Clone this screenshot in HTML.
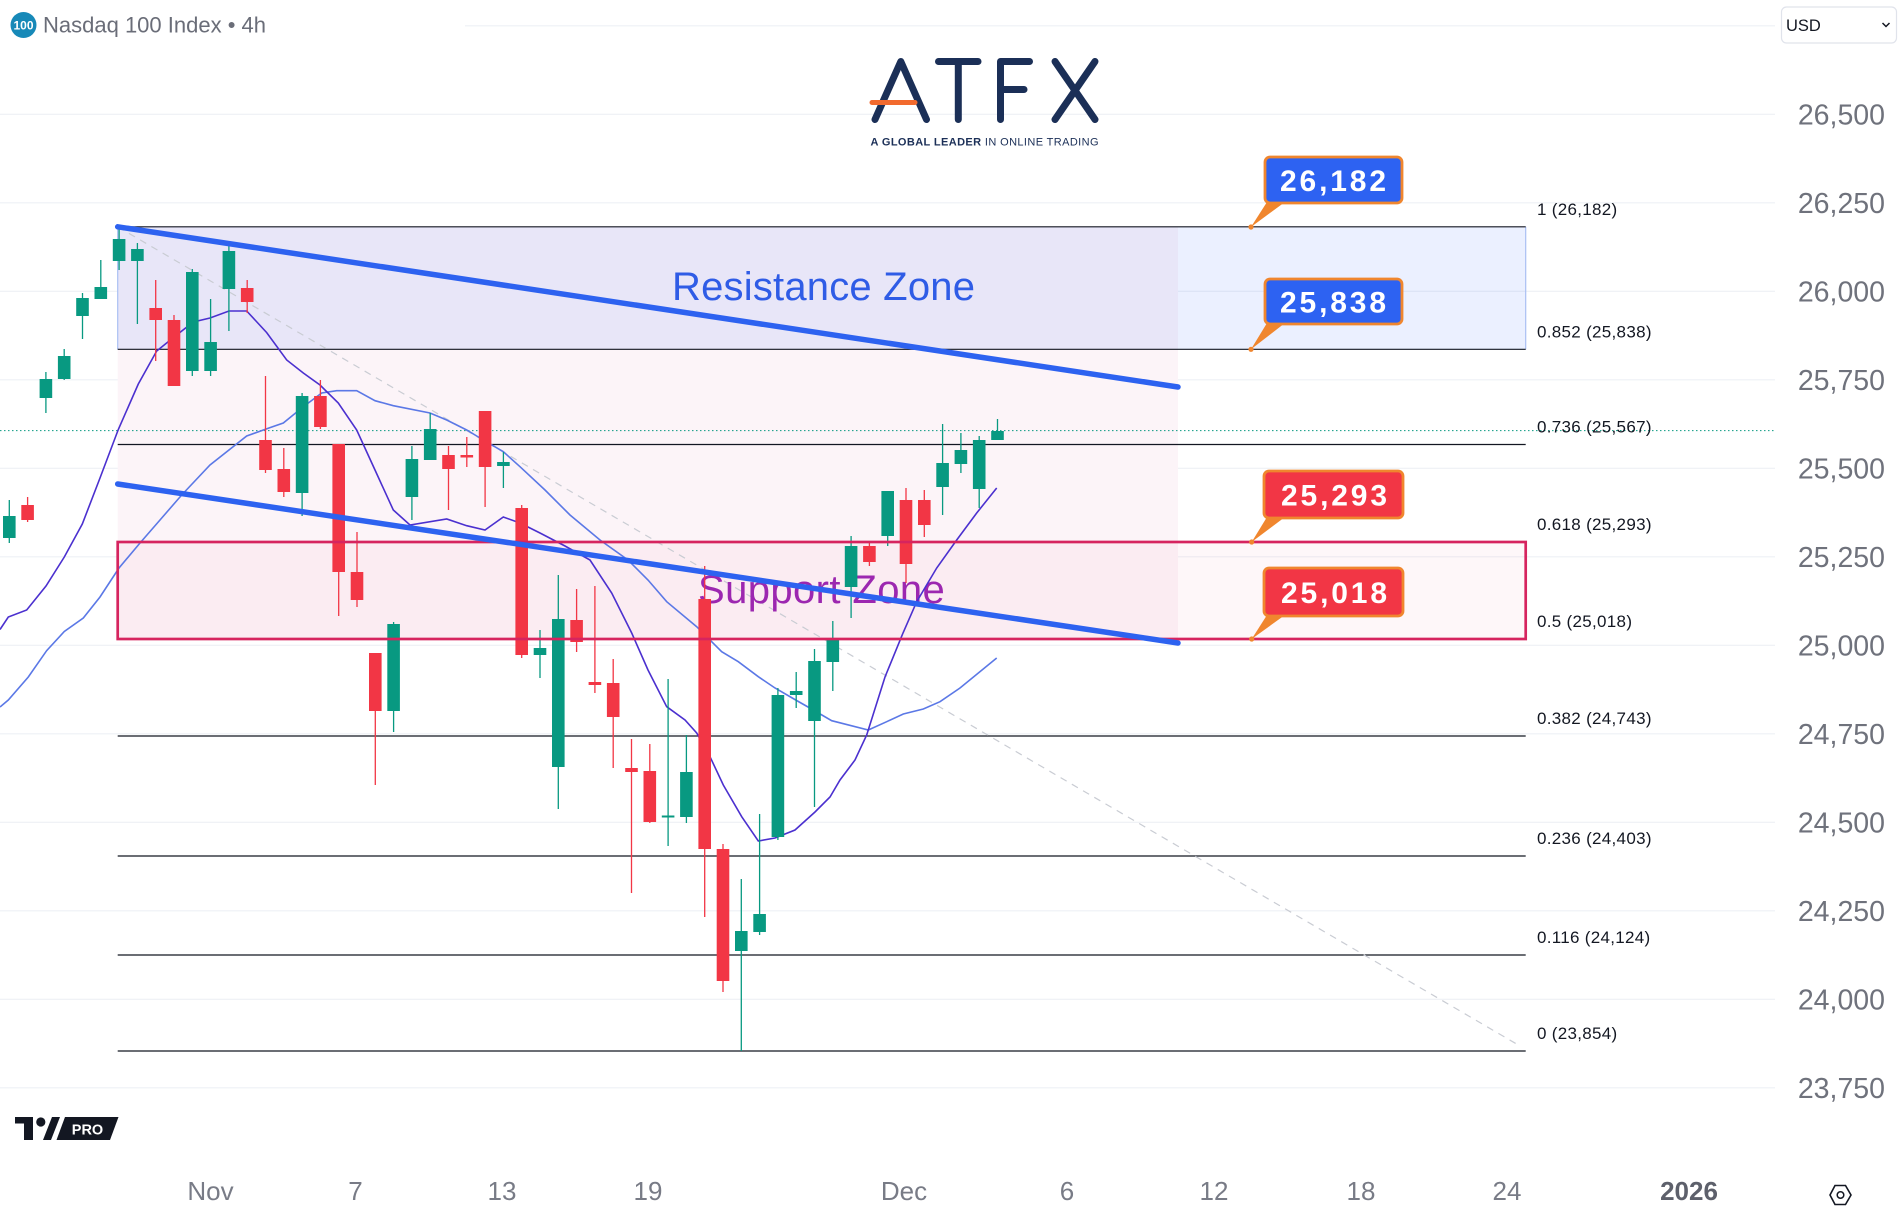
<!DOCTYPE html>
<html><head><meta charset="utf-8"><style>
html,body{margin:0;padding:0;background:#fff;}
svg{display:block;}
text{font-family:"Liberation Sans",Arial,sans-serif;}
</style></head><body>
<svg width="1902" height="1224" viewBox="0 0 1902 1224" xmlns="http://www.w3.org/2000/svg">
<rect width="1902" height="1224" fill="#fff"/>
<!-- gridlines -->
<g stroke="#eef0f5" stroke-width="1.2">
<line x1="465" y1="25.8" x2="1775" y2="25.8"/>
<line x1="0" y1="114.3" x2="1775" y2="114.3"/>
<line x1="0" y1="202.8" x2="1775" y2="202.8"/>
<line x1="0" y1="291.3" x2="1775" y2="291.3"/>
<line x1="0" y1="379.8" x2="1775" y2="379.8"/>
<line x1="0" y1="468.3" x2="1775" y2="468.3"/>
<line x1="0" y1="556.8" x2="1775" y2="556.8"/>
<line x1="0" y1="645.3" x2="1775" y2="645.3"/>
<line x1="0" y1="733.8" x2="1775" y2="733.8"/>
<line x1="0" y1="822.3" x2="1775" y2="822.3"/>
<line x1="0" y1="910.8" x2="1775" y2="910.8"/>
<line x1="0" y1="999.3" x2="1775" y2="999.3"/>
<line x1="0" y1="1087.8" x2="1775" y2="1087.8"/>
</g>
<!-- pink fill -->
<rect x="117.7" y="226.8" width="1060.3" height="412.2" fill="#fcf4f8"/>
<!-- resistance zone -->
<rect x="117.7" y="226.8" width="1408" height="122.5" fill="rgba(41,98,255,0.095)"/>
<line x1="117.7" y1="226.8" x2="117.7" y2="349.3" stroke="#a9c0f3" stroke-width="1.2"/>
<line x1="1525.7" y1="226.8" x2="1525.7" y2="349.3" stroke="#a9c0f3" stroke-width="1.2"/>
<!-- support zone fill -->
<rect x="117.7" y="542" width="1408" height="97" fill="rgba(233,30,99,0.035)"/>
<!-- fib lines -->
<g stroke="#131722" stroke-width="1.2">
<line x1="117.7" y1="226.8" x2="1525.7" y2="226.8"/>
<line x1="117.7" y1="349.3" x2="1525.7" y2="349.3"/>
<line x1="117.7" y1="444.5" x2="1525.7" y2="444.5"/>
<line x1="117.7" y1="736" x2="1525.7" y2="736"/>
<line x1="117.7" y1="856" x2="1525.7" y2="856"/>
<line x1="117.7" y1="955" x2="1525.7" y2="955"/>
<line x1="117.7" y1="1051" x2="1525.7" y2="1051"/>
</g>
<!-- current price dotted -->
<line x1="0" y1="430.6" x2="1775" y2="430.6" stroke="#089981" stroke-width="1" stroke-dasharray="1.5 2.5"/>
<!-- gray dashed diagonal -->
<line x1="117.7" y1="226.8" x2="1520" y2="1046" stroke="#c9ccd3" stroke-width="1.2" stroke-dasharray="7 6"/>
<!-- zone texts -->
<text x="672" y="300" font-size="40" fill="#2f5ce6" letter-spacing="0.2">Resistance Zone</text>
<text x="698" y="603" font-size="40" fill="#9c27b0" letter-spacing="0.4">Support Zone</text>
<!-- MAs -->
<polyline fill="none" stroke="#5b78e6" stroke-width="1.6" points="0,707 8.3,700 28.3,677 46.7,650.6 64.3,631.5 83.3,618 100,597 119,568 140,543 160,520 181.7,495 210,465 246.7,436 270,427.6 283.3,423 303.3,406.7 321.7,393 336.7,390.7 356.7,390.7 375,400.7 393.3,405.7 430,413 446.7,420 466.7,430 483.3,440 503.3,451.7 520,466.7 545,490 570,515 600,540 628,560 648,580 666.7,601.7 696.7,626.7 721.7,651.7 738.3,661.7 758.3,676.7 775,688 795.7,700 813.3,710 831.7,720.7 868.3,730 886.7,721.7 903.3,714 923.3,709 940,701.7 960,688 996.7,658"/>
<polyline fill="none" stroke="#4b30cf" stroke-width="1.6" points="0,629.5 8.3,617 26.7,610 46,586 64.3,557 82.3,524 100,478 118.3,429.5 138.3,384 156.7,351 173.3,337.6 193.3,322 210,318 229,311 246.7,311 266.7,332.6 286.7,360 303.3,373 320,385 338.3,403 356.7,430 375,470 393.3,510 410,525 446.7,519 466.7,525.7 485,530 503.3,517 520,523 540,533 565,546 590,560 611.7,593 631.7,633 648,670 666.7,706.7 685,720 696.7,733 710,756.7 723.3,785 741.7,816.7 758.3,841 775,838 795,830 815,812 830,797 840,780 855,760 866.7,735 885,677 903,633 916.7,601.7 936.7,568 956.7,540 976.7,513 996.7,488"/>
<!-- green candles -->
<g fill="#089981">
<path stroke="#089981" stroke-width="1.3" fill="none" d="M9.3 500V543M45.9 372V413M64.2 349V380M82.5 293V339M100.8 260V299M119.1 229V270M137.4 243V324M192.3 269V376M210.6 299V376M228.9 245V331M302.1 393V516M393.6 622V732M411.9 446V520M430.2 413V460M503.4 452V488M540 630V678M558.3 575V809M668.1 679V846M686.4 735V823M741.3 879V1051M759.6 814V935M777.9 688V840M796.2 672V708M814.5 649V807M832.8 621V691M851.1 536V618M887.7 491V546M942.6 424V515M960.9 433V473M979.2 436V508M997.5 419V440"/>
<rect x="3" y="516" width="12.6" height="22"/>
<rect x="39.6" y="379" width="12.6" height="19"/>
<rect x="57.9" y="356" width="12.6" height="23"/>
<rect x="76.2" y="298" width="12.6" height="18"/>
<rect x="94.5" y="287" width="12.6" height="12"/>
<rect x="112.8" y="239" width="12.6" height="22"/>
<rect x="131.1" y="249" width="12.6" height="12"/>
<rect x="186" y="272" width="12.6" height="99"/>
<rect x="204.3" y="342" width="12.6" height="29"/>
<rect x="222.6" y="251" width="12.6" height="38"/>
<rect x="295.8" y="396" width="12.6" height="97"/>
<rect x="387.3" y="624" width="12.6" height="87"/>
<rect x="405.6" y="459" width="12.6" height="38"/>
<rect x="423.9" y="429" width="12.6" height="31"/>
<rect x="497.1" y="462" width="12.6" height="4"/>
<rect x="533.7" y="648" width="12.6" height="7"/>
<rect x="552" y="619" width="12.6" height="148"/>
<rect x="661.8" y="815.5" width="12.6" height="2"/>
<rect x="680.1" y="772" width="12.6" height="45"/>
<rect x="735" y="931" width="12.6" height="20"/>
<rect x="753.3" y="914" width="12.6" height="18"/>
<rect x="771.6" y="695" width="12.6" height="142"/>
<rect x="789.9" y="691" width="12.6" height="4"/>
<rect x="808.2" y="661" width="12.6" height="60"/>
<rect x="826.5" y="639" width="12.6" height="23"/>
<rect x="844.8" y="546" width="12.6" height="41"/>
<rect x="881.4" y="491" width="12.6" height="45"/>
<rect x="936.3" y="463" width="12.6" height="24"/>
<rect x="954.6" y="450" width="12.6" height="14"/>
<rect x="972.9" y="440" width="12.6" height="49"/>
<rect x="991.2" y="431" width="12.6" height="9"/>
</g>
<!-- red candles -->
<g fill="#f23645">
<path stroke="#f23645" stroke-width="1.3" fill="none" d="M27.6 497V522M155.7 280V361M174 315V386M247.2 280V313M265.5 376V473M283.8 448V497M320.4 380V429M338.7 444V616M357 532V607M375.3 653V785M448.5 446V510M466.8 437V467M485.1 411V507M521.7 505V658M576.6 589V652M594.9 586V693M613.2 659V768M631.5 739V893M649.8 744V823M704.7 566V917M723 844V992M869.4 541V566M906 488V583M924.3 490V537"/>
<rect x="21.3" y="505" width="12.6" height="15"/>
<rect x="149.4" y="308" width="12.6" height="12"/>
<rect x="167.7" y="320" width="12.6" height="66"/>
<rect x="240.9" y="288" width="12.6" height="14"/>
<rect x="259.2" y="440" width="12.6" height="30"/>
<rect x="277.5" y="469" width="12.6" height="23"/>
<rect x="314.1" y="396" width="12.6" height="31"/>
<rect x="332.4" y="444" width="12.6" height="128"/>
<rect x="350.7" y="572" width="12.6" height="28"/>
<rect x="369" y="653" width="12.6" height="58"/>
<rect x="442.2" y="455" width="12.6" height="14"/>
<rect x="460.5" y="455" width="12.6" height="2.5"/>
<rect x="478.8" y="411" width="12.6" height="56"/>
<rect x="515.4" y="508" width="12.6" height="147"/>
<rect x="570.3" y="620" width="12.6" height="22"/>
<rect x="588.6" y="682" width="12.6" height="3"/>
<rect x="606.9" y="683" width="12.6" height="34"/>
<rect x="625.2" y="768" width="12.6" height="4"/>
<rect x="643.5" y="771" width="12.6" height="51"/>
<rect x="698.4" y="599" width="12.6" height="250"/>
<rect x="716.7" y="849" width="12.6" height="132"/>
<rect x="863.1" y="546" width="12.6" height="16"/>
<rect x="899.7" y="500" width="12.6" height="64"/>
<rect x="918" y="500" width="12.6" height="25"/>
</g>
<!-- support zone border -->
<rect x="117.7" y="542" width="1408" height="97" fill="none" stroke="#d6245f" stroke-width="2.7"/>
<!-- trendlines -->
<g stroke="#2d62f0" stroke-width="5.5" stroke-linecap="round">
<line x1="117.7" y1="226.8" x2="1178" y2="387"/>
<line x1="117.7" y1="484" x2="1178" y2="643"/>
</g>
<!-- fib labels -->
<g font-size="17" fill="#131722" letter-spacing="0.3">
<text x="1537" y="215">1 (26,182)</text>
<text x="1537" y="337.5">0.852 (25,838)</text>
<text x="1537" y="432.5">0.736 (25,567)</text>
<text x="1537" y="530">0.618 (25,293)</text>
<text x="1537" y="627">0.5 (25,018)</text>
<text x="1537" y="724">0.382 (24,743)</text>
<text x="1537" y="844">0.236 (24,403)</text>
<text x="1537" y="943">0.116 (24,124)</text>
<text x="1537" y="1039">0 (23,854)</text>
</g>
<!-- callouts -->
<g>
<polygon points="1267,202 1285,202 1251,227" fill="#f0862e"/>
<circle cx="1251" cy="227" r="2.6" fill="#f0862e"/>
<rect x="1265" y="157" width="137" height="46" rx="5" fill="#2d62f2" stroke="#f0862e" stroke-width="2.8"/>
<text x="1280" y="191" font-size="30" font-weight="bold" fill="#fff" textLength="106" lengthAdjust="spacing">26,182</text>

<polygon points="1267,323 1285,323 1251,349.3" fill="#f0862e"/>
<circle cx="1251" cy="349.3" r="2.6" fill="#f0862e"/>
<rect x="1265" y="279" width="137" height="45" rx="5" fill="#2d62f2" stroke="#f0862e" stroke-width="2.8"/>
<text x="1280" y="312.5" font-size="30" font-weight="bold" fill="#fff" textLength="106" lengthAdjust="spacing">25,838</text>

<polygon points="1267,517 1285,517 1251.7,542" fill="#f0862e"/>
<circle cx="1251.7" cy="542" r="2.6" fill="#f0862e"/>
<rect x="1264" y="471" width="139" height="47" rx="5" fill="#f23645" stroke="#f0862e" stroke-width="2.8"/>
<text x="1281" y="505.5" font-size="30" font-weight="bold" fill="#fff" textLength="106" lengthAdjust="spacing">25,293</text>

<polygon points="1267,615 1285,615 1251.7,639" fill="#f0862e"/>
<circle cx="1251.7" cy="639" r="2.6" fill="#f0862e"/>
<rect x="1264" y="568" width="139" height="48" rx="5" fill="#f23645" stroke="#f0862e" stroke-width="2.8"/>
<text x="1281" y="603" font-size="30" font-weight="bold" fill="#fff" textLength="106" lengthAdjust="spacing">25,018</text>
</g>
<!-- y axis labels -->
<g font-size="28.5" fill="#6f727c" text-anchor="end">
<text x="1885" y="124.3">26,500</text>
<text x="1885" y="212.8">26,250</text>
<text x="1885" y="301.3">26,000</text>
<text x="1885" y="389.8">25,750</text>
<text x="1885" y="478.3">25,500</text>
<text x="1885" y="566.8">25,250</text>
<text x="1885" y="655.3">25,000</text>
<text x="1885" y="743.8">24,750</text>
<text x="1885" y="832.3">24,500</text>
<text x="1885" y="920.8">24,250</text>
<text x="1885" y="1009.3">24,000</text>
<text x="1885" y="1097.8">23,750</text>
</g>
<!-- x axis labels -->
<g font-size="26" fill="#787b86" text-anchor="middle">
<text x="210.5" y="1200">Nov</text>
<text x="355.5" y="1200">7</text>
<text x="502" y="1200">13</text>
<text x="648" y="1200">19</text>
<text x="904" y="1200">Dec</text>
<text x="1067" y="1200">6</text>
<text x="1214" y="1200">12</text>
<text x="1361" y="1200">18</text>
<text x="1507" y="1200">24</text>
<text x="1689" y="1200" font-weight="bold" fill="#5d606b">2026</text>
</g>
<!-- settings icon -->
<polygon points="1830,1195 1835,1185.5 1845.5,1185.5 1851,1195 1845.5,1204.5 1835,1204.5" fill="none" stroke="#131722" stroke-width="1.6"/>
<circle cx="1840.5" cy="1195" r="3.3" fill="none" stroke="#131722" stroke-width="1.5"/>
<!-- legend -->
<circle cx="23.5" cy="25" r="13" fill="#1789b8"/>
<text x="23.5" y="29.5" font-size="12" font-weight="bold" fill="#fff" text-anchor="middle">100</text>
<text x="43" y="32.5" font-size="22" fill="#6a6d78">Nasdaq 100 Index • 4h</text>
<!-- USD box -->
<rect x="1781.5" y="7" width="115" height="36" rx="5" fill="#fff" stroke="#e0e3eb" stroke-width="1.2"/>
<text x="1786" y="31" font-size="16.5" fill="#131722">USD</text>
<path d="M1882.5 23 l3.5 3.5 l3.5 -3.5" fill="none" stroke="#131722" stroke-width="1.5"/>
<!-- ATFX logo -->
<g stroke="#1b2f57" stroke-width="7" stroke-linecap="round" stroke-linejoin="round" fill="none">
<polyline points="875,119.5 900.8,61.5 926.5,119.5"/>
<line x1="938.5" y1="61.5" x2="978" y2="61.5"/>
<line x1="958.3" y1="61.5" x2="958.3" y2="119.5"/>
<polyline points="1029.5,61.5 1000.5,61.5 1000.5,119.5"/>
<line x1="1000.5" y1="89.5" x2="1024" y2="89.5"/>
<line x1="1055" y1="61.5" x2="1095" y2="119.5"/>
<line x1="1095" y1="61.5" x2="1055" y2="119.5"/>
</g>
<line x1="872" y1="102.5" x2="915" y2="102.5" stroke="#f26a2e" stroke-width="5" stroke-linecap="round"/>
<text x="870.5" y="145.5" font-size="11" fill="#1b2f57" textLength="228" lengthAdjust="spacing"><tspan font-weight="bold">A GLOBAL LEADER</tspan> IN ONLINE TRADING</text>
<!-- TV PRO logo -->
<g fill="#131722">
<rect x="15" y="1117" width="18" height="6.5"/>
<rect x="24" y="1117" width="9" height="23"/>
<circle cx="40.8" cy="1122" r="4.6"/>
<polygon points="43,1140 51,1140 60,1117 52,1117"/>
<polygon points="56.5,1140 110,1140 118.5,1117 65,1117"/>
</g>
<text x="87.5" y="1134.5" font-size="14.5" font-weight="bold" fill="#fff" text-anchor="middle">PRO</text>
</svg>
</body></html>
